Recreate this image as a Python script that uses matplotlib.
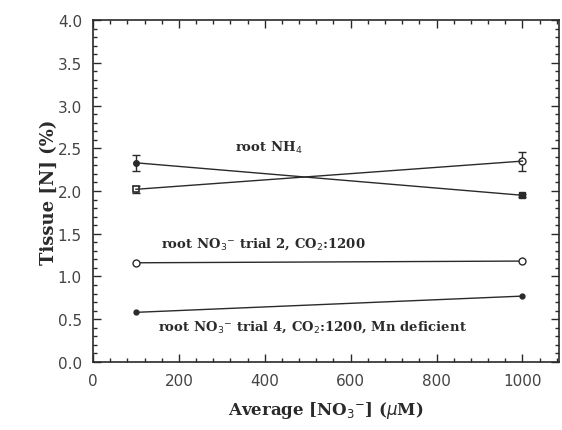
import matplotlib
matplotlib.use("Agg")
import matplotlib.pyplot as plt
from matplotlib.ticker import MultipleLocator

# Nitrate supply (uM) and tissue N (%) for each treatment
x_levels = [100, 1000]

nh4_a = [2.33, 1.95]
nh4_a_err = [0.09, 0.02]
nh4_b = [2.02, 2.35]
nh4_b_err = [0.04, 0.11]

no3_trial2 = [1.16, 1.18]
no3_trial4 = [0.58, 0.77]

x_ticks = [0, 200, 400, 600, 800, 1000]
y_ticks = [0.0, 0.5, 1.0, 1.5, 2.0, 2.5, 3.0, 3.5, 4.0]

ink = "#2a2a2a"
serif = ["DejaVu Serif"]

fig = plt.figure(figsize=(5.62, 4.31), dpi=100)
ax = fig.add_axes([0.1655, 0.158, 0.829, 0.793])

lw = 1.0
eb = dict(color=ink, lw=lw, capsize=3, elinewidth=1.0, capthick=1.0)

# ammonium series: lines with error bars, point symbols drawn per point
ax.errorbar(x_levels, nh4_a, yerr=nh4_a_err, **eb)
ax.errorbar(x_levels, nh4_b, yerr=nh4_b_err, **eb)
ax.plot(x_levels[0], nh4_a[0], "o", ms=4, mfc=ink, mec=ink)
ax.plot(x_levels[1], nh4_a[1], "s", ms=4, mfc=ink, mec=ink)
ax.plot(x_levels[0], nh4_b[0], "s", ms=5, mfc="white", mec=ink, mew=1.2)
ax.plot(x_levels[1], nh4_b[1], "o", ms=5, mfc="white", mec=ink, mew=1.0)

ax.plot(x_levels, no3_trial2, color=ink, lw=lw, marker="o", ms=5,
        mfc="white", mec=ink, mew=1.0)
ax.plot(x_levels, no3_trial4, color=ink, lw=lw, marker="o", ms=3.5,
        mfc=ink, mec=ink)

txt = dict(family=serif, fontweight="bold", fontsize=9.5, color=ink,
           va="center")
ax.text(330, 2.52, r"root NH$_4$", **txt)
ax.text(158, 1.39, r"root NO$_3$$^{-}$ trial 2, CO$_2$:1200", **txt)
ax.text(152, 0.42, r"root NO$_3$$^{-}$ trial 4, CO$_2$:1200, Mn deficient", **txt)

ax.set_xlim(0, 1085)
ax.set_ylim(0, 4.0)
ax.set_xticks(x_ticks)
ax.set_yticks(y_ticks)
ax.set_yticklabels([f"{v:.1f}" for v in y_ticks])
ax.xaxis.set_minor_locator(MultipleLocator(40))
ax.yaxis.set_minor_locator(MultipleLocator(0.1))
ax.tick_params(which="both", direction="in", top=True, right=True,
               colors=ink, labelsize=11, width=1.0)
ax.tick_params(which="major", length=6, pad=8)
ax.tick_params(which="minor", length=3)
for lab in ax.get_xticklabels() + ax.get_yticklabels():
    lab.set_color("#444444")
for s in ax.spines.values():
    s.set_color(ink)
    s.set_linewidth(1.2)

ax.set_ylabel("Tissue [N] (%)", family=serif, fontweight="bold",
              fontsize=13, color=ink)
ax.yaxis.set_label_coords(-0.076, 0.5)
ax.set_xlabel(r"Average [NO$_3$$^{-}$] ($\mu$M)", family=serif,
              fontweight="bold", fontsize=12, color=ink, labelpad=8)

fig.savefig("out.png", dpi=100, facecolor="white")
